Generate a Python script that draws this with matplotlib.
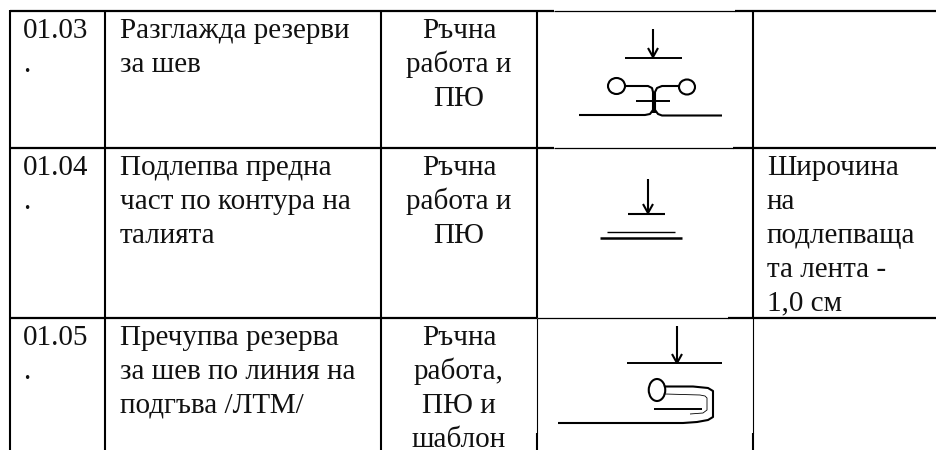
import matplotlib
matplotlib.use("Agg")
import matplotlib.pyplot as plt
from matplotlib.patches import Ellipse

W, H = 936, 450

# table text
codes = ["01.03", "01.04", "01.05"]
operations = [
    ["Разглажда резерви", "за шев"],
    ["Подлепва предна", "част по контура на", "талията"],
    ["Пречупва резерва", "за шев по линия на", "подгъва /ЛТМ/"],
]
tools = [
    ["Ръчна", "работа и", "ПЮ"],
    ["Ръчна", "работа и", "ПЮ"],
    ["Ръчна", "работа,", "ПЮ и", "шаблон"],
]
notes = [[], ["Широчина", "на", "подлепваща", "та лента -", "1,0 см"], []]

# grid lines
col_x = [9.5, 105, 381, 537, 753]
row_y = [11, 148, 318]
row_base = [38, 175, 345]
line_step = 33.9

fig = plt.figure(figsize=(W / 100, H / 100), dpi=100)
ax = fig.add_axes([0, 0, 1, 1])
ax.set_xlim(0, W)
ax.set_ylim(H, 0)
ax.axis("off")


def line(xs, ys, lw=1.4):
    ax.plot(xs, ys, color="black", lw=lw, solid_capstyle="butt", solid_joinstyle="round")


for x in col_x:
    if x in (537, 753):
        continue
    line([x, x], [row_y[0] - 1, H], 1.5)

# the picture cells sit over the grid, so some edges come out thinner
line([537, 537], [10, 318], 1.5)
line([537, 537], [318, 433], 0.8)
line([537, 537], [433, H], 1.5)
line([753, 753], [10, 318], 1.5)
line([753, 753], [318, 433], 0.8)
line([753, 753], [433, H], 1.5)

for y, x0, x1 in zip(row_y, [554, 554, 537], [735, 733, 728]):
    line([col_x[0], x0], [y, y], 1.6)
    line([x0, x1], [y, y], 0.9)
    line([x1, W], [y, y], 1.6)


def put(x, y, s, ha="left"):
    ax.text(x, y, s, ha=ha, va="baseline", fontsize=21, color="#111111", family="Liberation Serif")


for i in range(3):
    base = row_base[i]
    put(23, base, codes[i])
    put(23, base + line_step, ".")
    for j, s in enumerate(operations[i]):
        put(120, base + j * line_step, s)
    for j, s in enumerate(tools[i]):
        put(459, base + j * line_step, s, ha="center")
    for j, s in enumerate(notes[i]):
        put(767, base + j * line_step, s)


def arrow(x, y0, y1):
    line([x, x], [y0, y1], 1.5)
    line([x - 5, x, x + 5], [y1 - 9, y1, y1 - 9], 1.5)


def ring(x, y, w, h):
    ax.add_patch(Ellipse((x, y), w, h, fill=False, ec="black", lw=1.5, zorder=3))


# symbol 1
arrow(653, 29, 57)
line([625, 682], [58, 58])
ring(616.5, 86, 17, 16)
ring(687, 87, 16, 15)
line([625, 648, 652, 653, 653], [86, 86, 88, 92, 113], 1.5)
line([679, 662, 657, 655, 655], [86, 86, 88, 92, 113], 1.5)
line([636, 670], [101, 101])
line([579, 645, 650, 653], [115, 115, 114, 110], 1.5)
line([722, 662, 658, 655], [115.5, 115.5, 114, 110], 1.5)

# symbol 2
arrow(648, 179, 213)
line([628, 665], [214, 214], 1.5)
line([607, 675], [232, 232], 1.0)
line([600, 682], [238, 238], 1.8)

# symbol 3
arrow(677, 326, 363)
line([627, 722], [363, 363])
ring(657, 390, 16.5, 22)
line([665, 693, 708, 713, 713, 708, 697, 683, 558], [386.5, 386.5, 388, 391, 417, 420, 422, 423, 423], 1.5)
line([665, 700, 705, 707, 707, 703, 690], [394, 395, 396, 398, 410, 413, 414], 0.6)
line([654, 702], [408.7, 408.7], 1.4)

fig.savefig("out.png", dpi=100)
